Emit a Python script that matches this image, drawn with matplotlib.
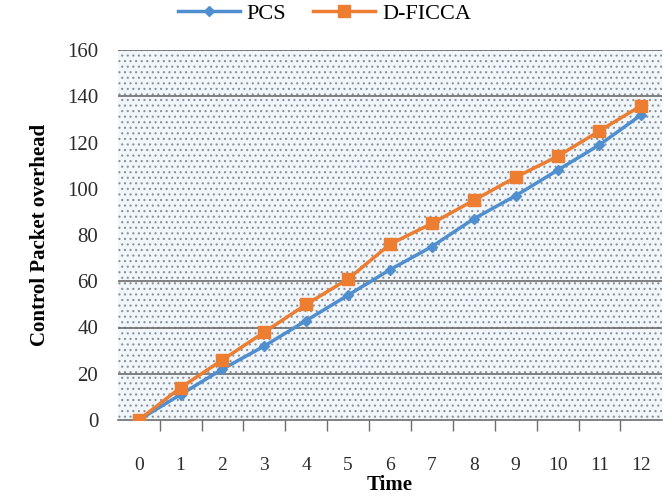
import matplotlib.pyplot as plt
from matplotlib.patches import Rectangle

plt.rcParams['font.family'] = ['Liberation Serif', 'DejaVu Serif']
plt.rcParams['hatch.linewidth'] = 0.8
plt.rcParams['hatch.color'] = '#7d838a'

# data
time = list(range(13))
pcs = [0, 11, 22, 32, 43, 54, 65, 75, 87, 97, 108, 119, 132]
dficca = [0, 14, 26, 38, 50, 61, 76, 85, 95, 105, 114, 125, 136]
grid_levels = [20, 40, 60, 140, 160]
y_ticks = [0, 20, 40, 60, 80, 100, 120, 140, 160]

fig = plt.figure(figsize=(6.69, 5), dpi=100)
ax = fig.add_axes([0.176, 0.16, 0.814, 0.74])

# dotted background of the plot area
ax.set_facecolor('#f1f6fb')
ax.add_patch(Rectangle((0, 0), 1, 1, transform=ax.transAxes, facecolor='none',
                       edgecolor='#8a9097', hatch='...', linewidth=0, zorder=0))

for g in grid_levels:
    ax.axhline(g, color='#6d6d6d', linewidth=1.2, zorder=1)

ax.plot(time, pcs, color='#4f8fcf', linewidth=2.5, marker='D', markersize=5,
        label='PCS', zorder=3)
ax.plot(time, dficca, color='#ed7d31', linewidth=2.5, marker='s', markersize=8,
        label='D-FICCA', zorder=4)

ax.set_xlim(-0.5, 12.5)
ax.set_ylim(0, 160)
ax.set_yticks(y_ticks)
ax.set_xticks(time)
ax.set_xticks([t + 0.5 for t in time[:-1]], minor=True)

for side in ['top', 'right', 'left']:
    ax.spines[side].set_visible(False)
ax.spines['bottom'].set_color('#6d6d6d')
ax.spines['bottom'].set_linewidth(1.2)

ax.tick_params(axis='y', length=0, pad=14, labelsize=15, labelcolor='#2b2b2b')
ax.tick_params(axis='x', which='major', length=0, pad=27, labelsize=14,
               labelcolor='#2b2b2b')
ax.tick_params(axis='x', which='minor', length=8, color='#6d6d6d', width=1)

ax.set_xlabel('Time', fontsize=15, fontweight='bold', labelpad=0)
ax.set_ylabel('Control Packet overhead', fontsize=15, fontweight='bold', labelpad=12)

fig.legend(loc='center', bbox_to_anchor=(0.485, 0.972), ncol=2, frameon=False,
           fontsize=16, handlelength=2.8, columnspacing=1.2, handletextpad=0.3)

fig.savefig('out.png', dpi=100)
